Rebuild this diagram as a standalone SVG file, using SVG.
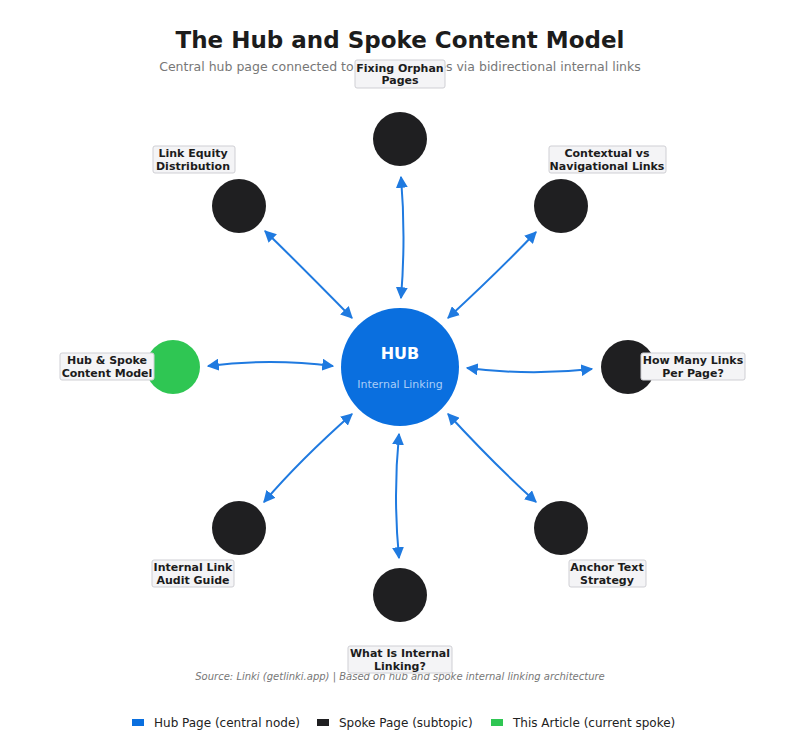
<svg xmlns="http://www.w3.org/2000/svg" width="800" height="744" viewBox="0 0 800 744">
<style>
text{font-family:"DejaVu Sans","Liberation Sans",sans-serif}
.lbl rect{fill:#f4f4f6;stroke:#cfcfd4;stroke-width:1}
.lbl text{font-size:11px;font-weight:bold;fill:#1c1c1c;text-anchor:middle}
.spoke{fill:#1f1f21}
.c path{fill:none;stroke:#1f7ae0;stroke-width:2;marker-start:url(#a);marker-end:url(#a)}
.leg{font-size:12px;fill:#222}
</style>
<defs>
<marker id="a" viewBox="0 0 10 10" refX="9" refY="5" markerWidth="6" markerHeight="6" orient="auto-start-reverse"><path d="M0,0 L10,5 L0,10 z" fill="#1f7ae0"/></marker>
</defs>
<rect width="800" height="744" fill="#fff"/>
<text x="400" y="48" font-size="23" font-weight="bold" fill="#1c1c1c" text-anchor="middle">The Hub and Spoke Content Model</text>
<text x="400" y="71" font-size="12.5" fill="#777" text-anchor="middle">Central hub page connected to subtopic pages via bidirectional internal links</text>
<text x="400" y="680" font-size="10" font-style="italic" fill="#777" text-anchor="middle">Source: Linki (getlinki.app) | Based on hub and spoke internal linking architecture</text>
<g class="c" id="connectors">
<path d="M401,298 Q406,237 401,177"/>
<path d="M352,318 Q300,265 265,231"/>
<path d="M448,318 Q500,270 536,232"/>
<path d="M333,366 Q270,358 208,366"/>
<path d="M467,368 Q530,376 592,369"/>
<path d="M352,414 Q300,460 264,502"/>
<path d="M448,414 Q495,465 536,502"/>
<path d="M399,434 Q393,496 399,558"/>
</g>
<g id="hub"><circle cx="400" cy="367" r="59" fill="#0a6fdf"/>
<text x="400" y="359" font-size="16" font-weight="bold" fill="#fff" text-anchor="middle">HUB</text>
<text x="400" y="388" font-size="11" fill="#a9cdf7" text-anchor="middle">Internal Linking</text></g>
<g id="n1"><circle class="spoke" cx="400" cy="139" r="27"/><g class="lbl"><rect x="355" y="60" width="90" height="28" rx="2"/><text x="400" y="72">Fixing Orphan</text><text x="400" y="84">Pages</text></g></g>
<g id="n2"><circle class="spoke" cx="239" cy="206" r="27"/><g class="lbl"><rect x="153" y="146" width="82" height="27" rx="2"/><text x="193" y="157">Link Equity</text><text x="193" y="170">Distribution</text></g></g>
<g id="n3"><circle class="spoke" cx="561" cy="206" r="27"/><g class="lbl"><rect x="549" y="146" width="117" height="27" rx="2"/><text x="607" y="157">Contextual vs</text><text x="607" y="170">Navigational Links</text></g></g>
<g id="n4"><circle cx="173" cy="367" r="27" fill="#2fc653"/><g class="lbl"><rect x="60" y="353" width="94" height="27" rx="2"/><text x="107" y="364">Hub &amp; Spoke</text><text x="107" y="377">Content Model</text></g></g>
<g id="n5"><circle class="spoke" cx="628" cy="367" r="27"/><g class="lbl"><rect x="641" y="353" width="104" height="27" rx="2"/><text x="693" y="364">How Many Links</text><text x="693" y="377">Per Page?</text></g></g>
<g id="n6"><circle class="spoke" cx="239" cy="528" r="27"/><g class="lbl"><rect x="152" y="560" width="82" height="27" rx="2"/><text x="193" y="571">Internal Link</text><text x="193" y="584">Audit Guide</text></g></g>
<g id="n7"><circle class="spoke" cx="561" cy="528" r="27"/><g class="lbl"><rect x="569" y="560" width="77" height="27" rx="2"/><text x="607" y="571">Anchor Text</text><text x="607" y="584">Strategy</text></g></g>
<g id="n8"><circle class="spoke" cx="400" cy="595" r="27"/><g class="lbl"><rect x="348" y="646" width="104" height="27" rx="2"/><text x="400" y="657">What Is Internal</text><text x="400" y="670">Linking?</text></g></g>
<g id="legend">
<rect x="132" y="719" width="12" height="7" fill="#0a6fdf"/><text class="leg" x="154" y="727">Hub Page (central node)</text>
<rect x="317" y="719" width="12" height="7" fill="#1f1f21"/><text class="leg" x="339" y="727">Spoke Page (subtopic)</text>
<rect x="491" y="719" width="12" height="7" fill="#2fc653"/><text class="leg" x="513" y="727">This Article (current spoke)</text>
</g>
</svg>
